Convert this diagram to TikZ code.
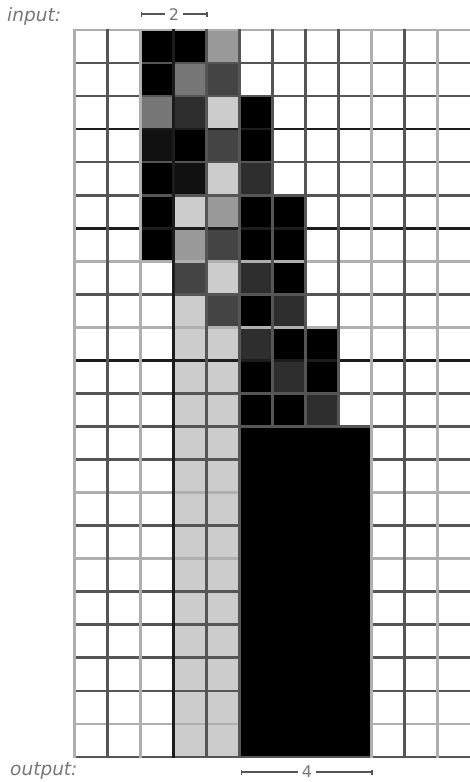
\documentclass[tikz,border=0pt]{standalone}
\usepackage{fontspec}
\setsansfont{DejaVu Sans}
\usetikzlibrary{arrows.meta}
\definecolor{gA}{HTML}{111111}
\definecolor{gB}{HTML}{2E2E2E}
\definecolor{gC}{HTML}{444444}
\definecolor{gD}{HTML}{777777}
\definecolor{gE}{HTML}{999999}
\definecolor{gF}{HTML}{CCCCCC}
\definecolor{lnL}{HTML}{AFAFAF}
\definecolor{lnD}{HTML}{555555}
\definecolor{lnK}{HTML}{1C1C1C}
\definecolor{txt}{HTML}{777777}
\newcommand{\gcell}[3]{\fill[#3] ({74.5+33*#1},{30+33.04*#2}) rectangle ++(33,33.04);}
\tikzset{
  lab/.style={font=\sffamily\itshape\fontsize{18.5}{18.5}\selectfont, text=txt, inner sep=0pt},
  dimlab/.style={font=\sffamily\fontsize{16}{16}\selectfont, text=txt, inner xsep=4pt, inner ysep=1.5pt, fill=white},
  dimline/.style={draw=lnD, line width=1.2pt},
  gline/.style={line width=2.6pt}
}
\begin{document}
\begin{tikzpicture}[x=1pt,y=-1pt]
\useasboundingbox (0,0) rectangle (470,782);
\begin{scope}
\clip (0,0) rectangle (470,782);
% cells
\gcell{2}{0}{black}\gcell{3}{0}{black}\gcell{4}{0}{gE}
\gcell{2}{1}{black}\gcell{3}{1}{gD}\gcell{4}{1}{gC}
\gcell{2}{2}{gD}\gcell{3}{2}{gB}\gcell{4}{2}{gF}\gcell{5}{2}{black}
\gcell{2}{3}{gA}\gcell{3}{3}{black}\gcell{4}{3}{gC}\gcell{5}{3}{black}
\gcell{2}{4}{black}\gcell{3}{4}{gA}\gcell{4}{4}{gF}\gcell{5}{4}{gB}
\gcell{2}{5}{black}\gcell{3}{5}{gF}\gcell{4}{5}{gE}\gcell{5}{5}{black}\gcell{6}{5}{black}
\gcell{2}{6}{black}\gcell{3}{6}{gE}\gcell{4}{6}{gC}\gcell{5}{6}{black}\gcell{6}{6}{black}
\gcell{3}{7}{gC}\gcell{4}{7}{gF}\gcell{5}{7}{gB}\gcell{6}{7}{black}
\gcell{3}{8}{gF}\gcell{4}{8}{gC}\gcell{5}{8}{black}\gcell{6}{8}{gB}
\gcell{3}{9}{gF}\gcell{4}{9}{gF}\gcell{5}{9}{gB}\gcell{6}{9}{black}\gcell{7}{9}{black}
\gcell{3}{10}{gF}\gcell{4}{10}{gF}\gcell{5}{10}{black}\gcell{6}{10}{gB}\gcell{7}{10}{black}
\gcell{3}{11}{gF}\gcell{4}{11}{gF}\gcell{5}{11}{black}\gcell{6}{11}{black}\gcell{7}{11}{gB}
\foreach \r in {12,...,21}{
  \gcell{3}{\r}{gF}\gcell{4}{\r}{gF}
  \fill[black] ({74.5+33*5},{30+33.04*\r}) rectangle ++(132,33.04);
}
% horizontal lines
\foreach \j/\c in {0/lnL,1/lnD,2/lnD,3/lnK,4/lnD,5/lnD,6/lnK,7/lnL,8/lnD,9/lnL,10/lnK,11/lnD,12/lnD,13/lnD,14/lnL,15/lnD,16/lnL,17/lnD,18/lnD,19/lnD,20/lnD,21/lnL,22/lnD}{
  \draw[gline,\c] (73.2,{30+33.04*\j}) -- (472,{30+33.04*\j});
}
% vertical lines
\foreach \i/\c in {0/lnL,1/lnD,2/lnL,3/lnK,4/lnD,5/lnD,6/lnD,7/lnD,8/lnD,9/lnL,10/lnD,11/lnL}{
  \draw[gline,\c] ({74.5+33*\i},28.7) -- ({74.5+33*\i},758.2);
}
% re-fill black block so interior lines vanish
\fill[black] ({74.5+33*5+1.3},{30+33.04*12+1.3}) rectangle ({74.5+33*9-1.3},{30+33.04*22-1.3});
\end{scope}
% labels
\node[lab, anchor=west] (in) at (7,16) {input:};
\node[lab, anchor=west] (out) at (10,771) {output:};
% dimension 2
\coordinate (a1) at (140.5,14);
\coordinate (a2) at (207.5,14);
\node[dimlab] (two) at (174,15) {2};
\draw[dimline,{Bar[width=5pt]}-] (a1) -- (a1 -| two.west);
\draw[dimline,-{Bar[width=5pt]}] (a2 -| two.east) -- (a2);
% dimension 4
\coordinate (b1) at (240.5,772);
\coordinate (b2) at (372.5,772);
\node[dimlab] (four) at (307,772) {4};
\draw[dimline,{Bar[width=5pt]}-] (b1) -- (b1 -| four.west);
\draw[dimline,-{Bar[width=5pt]}] (b2 -| four.east) -- (b2);
\end{tikzpicture}
\end{document}
